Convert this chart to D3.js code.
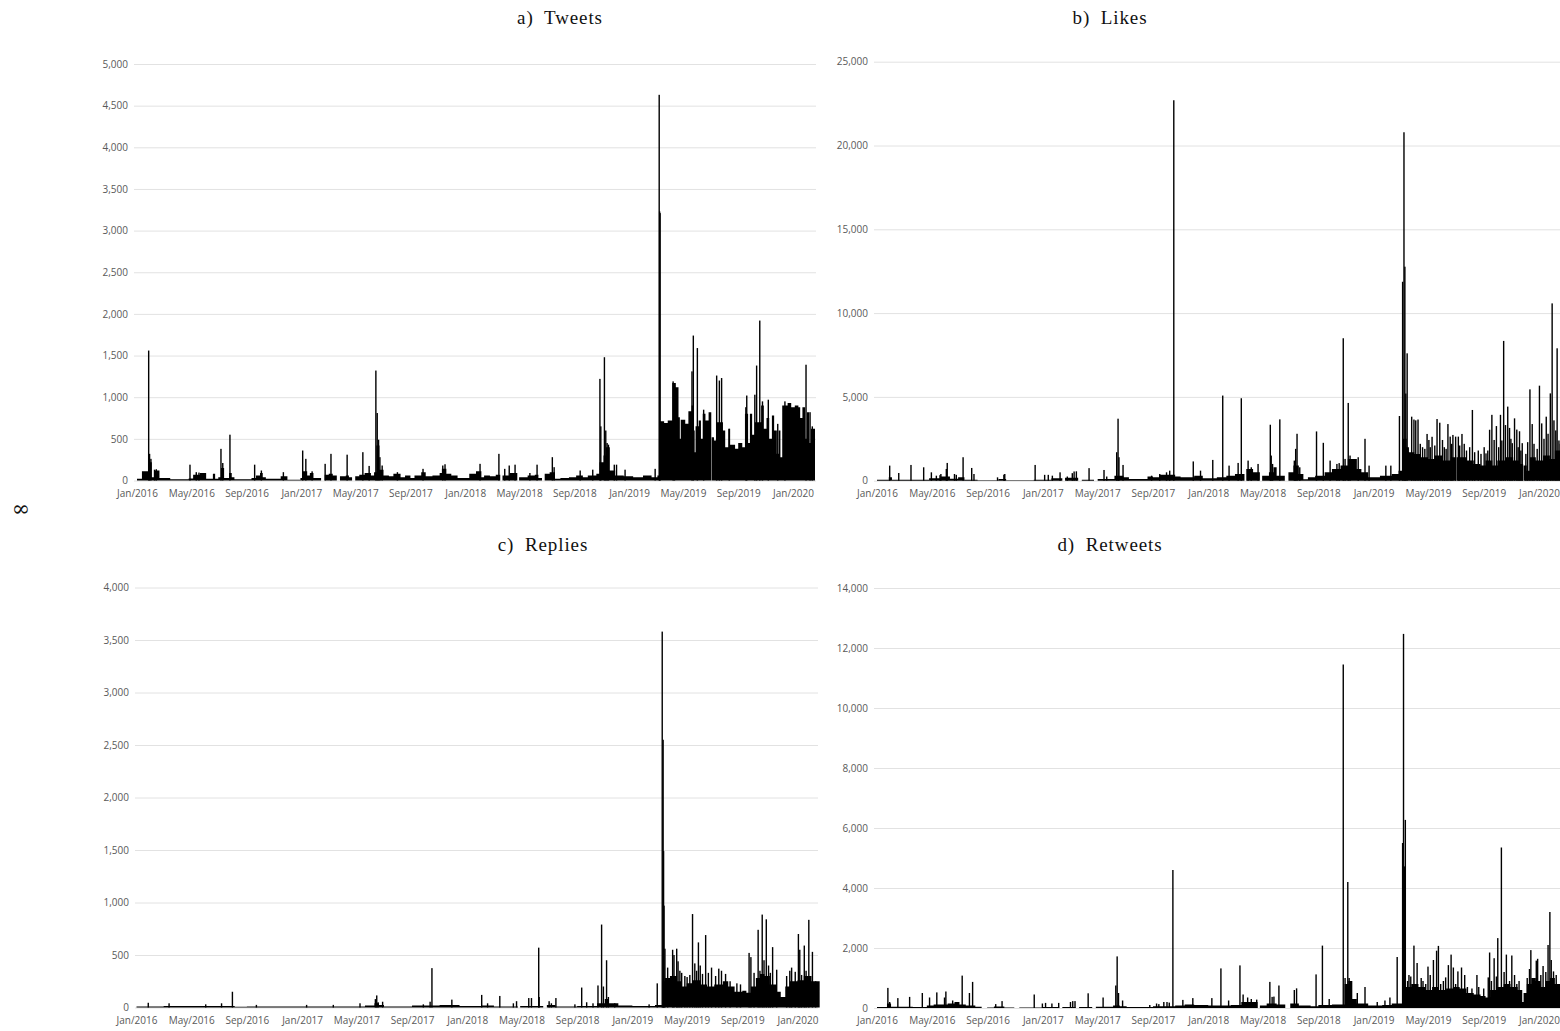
<!DOCTYPE html>
<html>
<head>
  <meta charset="utf-8">
  <title>Tweets, likes, replies and retweets per day</title>
  <style>
    body,html{
      margin:0;
      padding:0;
      background:#fff;
    }
    svg{ display:block; }
    .title{
      font-family:"Liberation Serif", "DejaVu Serif", serif;
      font-size:19px;
      letter-spacing:0.9px;
      word-spacing:5px;
      fill:#111;
    }
    .tick text{
      font-family:"Open Sans", "Liberation Sans", sans-serif;
      font-size:10px;
      fill:#595959;
    }
    .grid .tick line{ stroke:#e2e2e2; }
  </style>
</head>
<body>
  <div id="container"></div>
  <script src="https://d3js.org/d3.v7.min.js"></script>
  <script>

    // x axis ticks
    var xTicks = ["2016-01-01","2016-05-01","2016-09-01","2017-01-01","2017-05-01","2017-09-01","2018-01-01",
      "2018-05-01","2018-09-01","2019-01-01","2019-05-01","2019-09-01","2020-01-01"];
    var xTickLabels = ["Jan/2016","May/2016","Sep/2016","Jan/2017","May/2017","Sep/2017","Jan/2018",
      "May/2018","Sep/2018","Jan/2019","May/2019","Sep/2019","Jan/2020"];

    // each series: a daily "base" level (holds until next entry) + single-day peaks
    var tweetsBase = [["2016-01-01",20],["2016-01-12",110],["2016-01-26",60],["2016-01-28",220],["2016-02-03",40],["2016-02-08",120],
      ["2016-02-20",30],["2016-03-15",15],["2016-04-25",25],["2016-05-05",70],["2016-05-20",90],["2016-06-03",20],["2016-06-18",80],
      ["2016-06-23",20],["2016-06-30",40],["2016-07-06",150],["2016-07-13",30],["2016-07-24",90],["2016-07-30",40],["2016-08-05",15],
      ["2016-09-12",30],["2016-09-22",60],["2016-10-01",90],["2016-10-07",40],["2016-10-14",20],["2016-11-16",50],["2016-12-01",10],
      ["2016-12-30",30],["2017-01-03",110],["2017-01-14",60],["2017-01-20",90],["2017-01-28",30],["2017-02-14",0],["2017-02-22",70],
      ["2017-03-03",80],["2017-03-12",60],["2017-03-21",0],["2017-03-28",50],["2017-04-10",60],["2017-04-17",40],["2017-04-24",0],
      ["2017-05-01",50],["2017-05-10",70],["2017-05-22",90],["2017-06-05",60],["2017-06-12",100],["2017-06-17",420],["2017-06-24",130],
      ["2017-07-03",60],["2017-07-15",50],["2017-07-25",80],["2017-08-10",40],["2017-08-20",60],["2017-09-01",30],["2017-09-10",60],
      ["2017-09-25",100],["2017-10-05",50],["2017-10-20",60],["2017-11-05",90],["2017-11-10",140],["2017-11-20",80],["2017-12-01",60],
      ["2017-12-15",30],["2018-01-10",80],["2018-01-25",110],["2018-02-06",40],["2018-02-12",60],["2018-02-25",50],["2018-03-10",70],
      ["2018-03-20",0],["2018-03-25",60],["2018-04-10",90],["2018-04-27",0],["2018-05-01",40],["2018-05-20",60],["2018-06-05",70],
      ["2018-06-13",30],["2018-06-21",0],["2018-06-27",80],["2018-07-08",100],["2018-07-20",20],["2018-08-01",30],["2018-08-20",40],
      ["2018-09-05",60],["2018-09-20",40],["2018-10-01",60],["2018-10-20",80],["2018-10-27",220],["2018-11-05",300],["2018-11-10",400],
      ["2018-11-19",120],["2018-12-01",60],["2018-12-20",50],["2019-01-10",40],["2019-02-01",60],["2019-02-20",40],["2019-03-05",60],
      ["2019-03-09",710],["2019-03-20",690],["2019-03-28",720],["2019-04-07",1170],["2019-04-15",1120],["2019-04-21",760],["2019-04-24",500],
      ["2019-04-26",730],["2019-05-06",680],["2019-05-13",830],["2019-05-20",900],["2019-05-25",600],["2019-05-27",340],["2019-05-29",650],
      ["2019-06-05",720],["2019-06-10",500],["2019-06-14",800],["2019-06-20",720],["2019-06-27",820],["2019-07-03",0],["2019-07-04",520],
      ["2019-07-09",480],["2019-07-15",700],["2019-07-29",600],["2019-08-03",400],["2019-08-10",620],["2019-08-14",430],["2019-08-25",380],
      ["2019-09-01",450],["2019-09-10",400],["2019-09-16",800],["2019-09-23",450],["2019-09-27",800],["2019-10-02",550],["2019-10-08",700],
      ["2019-10-22",900],["2019-10-28",620],["2019-11-03",750],["2019-11-09",500],["2019-11-15",780],["2019-11-20",600],["2019-11-26",320],
      ["2019-11-30",600],["2019-12-04",280],["2019-12-08",900],["2019-12-20",930],["2019-12-28",880],["2020-01-05",900],["2020-01-13",880],
      ["2020-01-17",750],["2020-01-22",880],["2020-01-28",500],["2020-02-01",820],["2020-02-06",450],["2020-02-10",620],["2020-02-19",0]];
    var tweetsPeaks = [["2016-01-27",1560],["2016-01-29",320],["2016-02-01",260],["2016-02-09",130],["2016-02-13",135],["2016-04-28",190],
      ["2016-05-12",100],["2016-05-18",95],["2016-07-06",380],["2016-07-10",210],["2016-07-26",550],["2016-09-19",190],["2016-10-04",120],
      ["2016-11-22",100],["2017-01-04",360],["2017-01-11",260],["2017-01-25",110],["2017-02-23",200],["2017-03-08",320],["2017-04-13",310],
      ["2017-05-18",340],["2017-06-01",175],["2017-06-16",1320],["2017-06-19",810],["2017-06-22",490],["2017-06-25",280],["2017-06-30",180],
      ["2017-08-03",100],["2017-09-29",140],["2017-11-12",180],["2017-11-17",195],["2018-02-03",200],["2018-03-17",320],["2018-03-30",140],
      ["2018-04-09",180],["2018-04-22",190],["2018-05-25",90],["2018-06-10",190],["2018-07-14",280],["2018-07-18",160],["2018-09-14",120],
      ["2018-10-12",130],["2018-10-28",1220],["2018-10-30",650],["2018-11-07",1480],["2018-11-10",600],["2018-11-13",450],["2018-11-16",430],
      ["2018-11-29",190],["2018-12-04",190],["2018-12-23",130],["2019-02-28",140],["2019-03-09",4630],["2019-03-10",3230],["2019-03-11",3210],
      ["2019-04-09",1190],["2019-04-12",1150],["2019-05-21",1310],["2019-05-24",1740],["2019-06-02",1590],["2019-06-16",850],["2019-07-15",1260],
      ["2019-07-21",1200],["2019-07-26",1230],["2019-08-12",620],["2019-09-18",880],["2019-09-20",1020],["2019-10-08",1030],["2019-10-12",1380],
      ["2019-10-19",1920],["2019-10-25",950],["2019-11-07",970],["2019-11-28",680],["2019-12-14",950],["2020-01-30",1390],["2020-02-08",820],
      ["2020-02-13",650]];

    var likesBase = [["2016-01-01",60],["2016-01-27",200],["2016-02-03",60],["2016-04-25",150],["2016-05-20",250],["2016-06-10",120],
      ["2016-06-28",200],["2016-07-12",60],["2016-08-10",20],["2016-09-25",100],["2016-10-12",30],["2016-12-12",60],["2017-01-20",150],
      ["2017-02-13",0],["2017-02-19",180],["2017-03-20",0],["2017-03-28",60],["2017-04-24",0],["2017-05-02",100],["2017-06-08",300],
      ["2017-06-28",200],["2017-07-10",100],["2017-08-20",250],["2017-09-01",200],["2017-09-15",350],["2017-10-20",250],["2017-11-01",200],
      ["2017-12-01",300],["2017-12-20",150],["2018-01-20",200],["2018-02-10",300],["2018-03-01",400],["2018-03-22",0],["2018-03-26",700],
      ["2018-04-10",500],["2018-04-25",0],["2018-04-30",300],["2018-05-15",500],["2018-05-25",800],["2018-06-01",300],["2018-06-19",0],
      ["2018-06-27",500],["2018-07-08",900],["2018-07-20",400],["2018-07-30",80],["2018-08-09",200],["2018-08-25",300],["2018-09-15",500],
      ["2018-10-01",700],["2018-10-20",900],["2018-11-05",1300],["2018-11-25",700],["2018-12-05",500],["2018-12-20",200],["2019-01-15",300],
      ["2019-02-10",400],["2019-02-25",600],["2019-03-06",2500],["2019-03-15",2000],["2019-03-20",1700],["2019-04-01",1600],["2019-04-15",1400],
      ["2019-05-01",1300],["2019-05-15",1500],["2019-06-01",1200],["2019-06-20",1400],["2019-07-01",1500],["2019-07-02",0],["2019-07-03",1400],
      ["2019-07-25",1200],["2019-08-10",1000],["2019-08-25",900],["2019-09-05",1200],["2019-09-20",900],["2019-10-01",1200],["2019-10-20",1400],
      ["2019-11-05",1200],["2019-11-20",1000],["2019-11-27",0],["2019-11-28",900],["2019-12-05",600],["2019-12-12",1400],["2019-12-25",1200],
      ["2020-01-10",1500],["2020-01-25",1300],["2020-02-05",1800],["2020-02-19",0]];
    var likesPeaks = [["2016-01-29",900],["2016-02-18",460],["2016-03-16",940],["2016-04-13",800],["2016-04-30",500],["2016-05-11",300],
      ["2016-05-19",330],["2016-05-21",400],["2016-06-02",700],["2016-06-04",1060],["2016-06-20",400],["2016-06-24",350],["2016-07-09",1400],
      ["2016-07-28",760],["2016-08-02",400],["2016-09-23",200],["2016-10-07",360],["2016-10-09",400],["2016-12-15",940],["2017-01-05",350],
      ["2017-01-13",350],["2017-01-22",300],["2017-02-08",500],["2017-02-24",250],["2017-03-07",450],["2017-03-11",550],["2017-03-16",560],
      ["2017-04-13",750],["2017-05-16",640],["2017-05-22",250],["2017-06-13",1700],["2017-06-16",3700],["2017-06-18",1400],["2017-06-27",940],
      ["2017-08-29",300],["2017-09-16",400],["2017-10-01",500],["2017-10-08",600],["2017-10-17",22700],["2017-11-29",1150],["2017-12-15",600],
      ["2018-01-11",1240],["2018-02-02",5080],["2018-02-16",900],["2018-03-08",1060],["2018-03-15",4920],["2018-03-30",1200],["2018-04-06",800],
      ["2018-04-21",1000],["2018-05-18",3340],["2018-05-20",1500],["2018-05-23",1000],["2018-06-08",3660],["2018-07-10",1200],["2018-07-13",1900],
      ["2018-07-16",2800],["2018-07-22",800],["2018-08-28",2940],["2018-09-12",2260],["2018-09-27",1200],["2018-10-12",1000],["2018-10-17",1050],
      ["2018-10-26",8500],["2018-10-30",1300],["2018-11-06",4640],["2018-11-10",1500],["2018-11-28",1400],["2018-12-13",2500],["2018-12-22",900],
      ["2019-01-28",900],["2019-02-08",900],["2019-02-27",3860],["2019-03-06",11870],["2019-03-09",20790],["2019-03-11",12770],["2019-03-13",5200],
      ["2019-03-16",7600],["2019-03-26",3820],["2019-03-31",3650],["2019-04-04",3600],["2019-04-09",3650],["2019-04-14",2200],["2019-04-19",2000],
      ["2019-04-24",1900],["2019-04-29",2790],["2019-05-03",2430],["2019-05-06",2000],["2019-05-10",2620],["2019-05-16",2100],["2019-05-21",3680],
      ["2019-05-27",3460],["2019-06-02",2430],["2019-06-06",2000],["2019-06-10",1900],["2019-06-14",3380],["2019-06-19",2630],["2019-06-22",2200],
      ["2019-06-25",2730],["2019-07-01",2630],["2019-07-07",2630],["2019-07-10",2100],["2019-07-15",2790],["2019-07-20",2200],["2019-07-25",1800],
      ["2019-08-01",2000],["2019-08-07",4220],["2019-08-12",1700],["2019-08-20",1800],["2019-08-26",1600],["2019-09-02",2000],["2019-09-06",1630],
      ["2019-09-10",1800],["2019-09-14",3040],["2019-09-19",3930],["2019-09-24",2430],["2019-09-29",3260],["2019-10-04",2000],["2019-10-08",3930],
      ["2019-10-11",2400],["2019-10-15",8340],["2019-10-19",3320],["2019-10-24",4420],["2019-10-28",3150],["2019-10-31",2500],["2019-11-03",2240],
      ["2019-11-08",3720],["2019-11-13",3050],["2019-11-16",2000],["2019-11-19",2950],["2019-11-22",1800],["2019-11-25",2240],["2019-12-03",1600],
      ["2019-12-07",2300],["2019-12-12",5450],["2019-12-17",3380],["2019-12-21",2200],["2019-12-28",1900],["2020-01-02",5670],["2020-01-07",3420],
      ["2020-01-12",2500],["2020-01-17",3820],["2020-01-21",2800],["2020-01-26",5210],["2020-01-30",10580],["2020-02-03",3600],["2020-02-07",3000],
      ["2020-02-10",7900],["2020-02-14",2400],["2020-02-17",2200]];

    var repliesBase = [["2016-01-01",10],["2016-03-01",15],["2016-08-05",8],["2016-09-01",10],["2017-05-20",20],["2017-06-10",40],
      ["2017-06-20",25],["2017-07-01",10],["2017-09-01",20],["2017-11-01",25],["2017-12-15",15],["2018-02-01",20],["2018-03-01",10],
      ["2018-04-23",0],["2018-04-28",15],["2018-06-18",0],["2018-06-26",25],["2018-07-15",10],["2018-09-01",15],["2018-10-15",40],
      ["2018-11-01",80],["2018-11-10",40],["2018-12-01",20],["2019-01-01",15],["2019-02-20",25],["2019-03-09",250],["2019-03-14",280],
      ["2019-03-25",300],["2019-04-10",250],["2019-04-20",200],["2019-05-01",230],["2019-05-15",260],["2019-06-01",220],["2019-06-15",200],
      ["2019-07-01",220],["2019-07-20",250],["2019-08-01",200],["2019-08-15",150],["2019-09-01",160],["2019-09-10",140],["2019-09-20",200],
      ["2019-10-01",280],["2019-10-10",320],["2019-10-20",300],["2019-11-01",220],["2019-11-15",150],["2019-11-25",100],["2019-12-05",200],
      ["2019-12-15",250],["2020-01-01",260],["2020-01-15",300],["2020-02-01",250],["2020-02-19",0]];
    var repliesPeaks = [["2016-01-27",45],["2016-03-13",40],["2016-06-02",30],["2016-07-07",40],["2016-07-31",150],["2016-09-22",25],
      ["2017-01-11",25],["2017-03-11",25],["2017-05-09",40],["2017-06-12",80],["2017-06-15",115],["2017-06-18",50],["2017-06-28",55],
      ["2017-09-26",30],["2017-10-11",55],["2017-10-15",375],["2017-11-28",75],["2018-02-02",120],["2018-02-15",40],["2018-03-14",110],
      ["2018-04-13",40],["2018-04-20",60],["2018-05-17",90],["2018-05-23",90],["2018-06-08",570],["2018-06-09",100],["2018-07-01",60],
      ["2018-07-06",40],["2018-07-16",90],["2018-08-27",30],["2018-09-11",190],["2018-09-22",50],["2018-10-06",40],["2018-10-17",210],
      ["2018-10-25",790],["2018-10-29",200],["2018-11-05",450],["2018-11-09",100],["2018-11-23",40],["2019-02-07",30],["2019-02-25",230],
      ["2019-03-08",3580],["2019-03-10",2550],["2019-03-11",1490],["2019-03-12",970],["2019-03-14",560],["2019-03-20",380],["2019-03-31",550],
      ["2019-04-03",500],["2019-04-09",560],["2019-04-12",440],["2019-04-16",350],["2019-04-20",330],["2019-04-27",300],["2019-05-02",290],
      ["2019-05-08",310],["2019-05-14",890],["2019-05-19",420],["2019-05-23",350],["2019-05-27",620],["2019-05-31",400],["2019-06-05",320],
      ["2019-06-12",690],["2019-06-18",330],["2019-06-25",380],["2019-07-04",300],["2019-07-11",370],["2019-07-17",350],["2019-07-26",320],
      ["2019-08-05",250],["2019-08-20",230],["2019-08-28",220],["2019-09-16",520],["2019-09-20",480],["2019-09-27",330],["2019-10-06",740],
      ["2019-10-10",350],["2019-10-15",885],["2019-10-19",450],["2019-10-24",840],["2019-10-29",400],["2019-11-02",330],["2019-11-07",575],
      ["2019-11-16",360],["2019-12-08",300],["2019-12-15",350],["2019-12-19",380],["2019-12-27",340],["2020-01-03",700],["2020-01-06",550],
      ["2020-01-10",310],["2020-01-16",590],["2020-01-20",350],["2020-01-26",835],["2020-02-03",530],["2020-02-10",250]];

    var retweetsBase = [["2016-01-01",30],["2016-01-23",150],["2016-02-01",40],["2016-03-20",30],["2016-04-20",80],["2016-05-05",120],
      ["2016-06-05",150],["2016-06-20",200],["2016-07-01",120],["2016-07-15",80],["2016-08-05",40],["2016-08-19",0],["2016-08-31",20],
      ["2016-09-15",50],["2016-10-08",20],["2016-10-30",0],["2016-11-10",20],["2017-01-01",30],["2017-02-06",0],["2017-02-13",30],
      ["2017-03-14",0],["2017-03-22",30],["2017-04-20",0],["2017-04-28",40],["2017-06-05",80],["2017-06-20",60],["2017-07-05",30],
      ["2017-09-01",60],["2017-10-20",80],["2017-11-10",120],["2017-12-01",100],["2018-01-01",80],["2018-02-20",100],["2018-03-15",200],
      ["2018-04-20",0],["2018-04-25",80],["2018-05-10",150],["2018-06-01",120],["2018-06-20",0],["2018-07-01",150],["2018-07-20",80],
      ["2018-08-15",60],["2018-09-01",100],["2018-10-01",120],["2018-10-29",800],["2018-11-06",900],["2018-11-15",300],["2018-11-25",150],
      ["2018-12-20",80],["2019-01-20",100],["2019-02-10",150],["2019-03-06",800],["2019-03-13",700],["2019-03-25",800],["2019-04-10",700],
      ["2019-04-25",600],["2019-05-10",700],["2019-05-25",600],["2019-06-10",650],["2019-06-25",700],["2019-07-10",650],["2019-07-25",500],
      ["2019-08-10",450],["2019-08-25",400],["2019-09-05",350],["2019-09-15",600],["2019-10-01",700],["2019-10-15",800],["2019-10-30",700],
      ["2019-11-15",600],["2019-11-25",200],["2019-11-28",500],["2019-12-05",800],["2019-12-15",1000],["2019-12-25",900],["2020-01-05",700],
      ["2020-01-15",900],["2020-01-25",1000],["2020-02-05",800],["2020-02-19",0]];
    var retweetsPeaks = [["2016-01-25",670],["2016-01-29",200],["2016-02-16",330],["2016-03-13",370],["2016-04-10",500],["2016-04-26",350],
      ["2016-05-12",520],["2016-05-29",350],["2016-06-01",550],["2016-06-16",250],["2016-07-07",1080],["2016-07-23",500],["2016-07-30",870],
      ["2016-09-19",130],["2016-10-03",230],["2016-12-13",450],["2016-12-31",150],["2017-01-07",170],["2017-01-21",150],["2017-02-05",170],
      ["2017-03-03",200],["2017-03-08",230],["2017-03-13",230],["2017-04-11",490],["2017-05-14",350],["2017-06-11",750],["2017-06-14",1720],
      ["2017-06-17",500],["2017-06-26",250],["2017-08-25",100],["2017-09-09",150],["2017-09-14",130],["2017-09-25",200],["2017-10-02",200],
      ["2017-10-07",180],["2017-10-15",4600],["2017-11-06",270],["2017-11-28",330],["2018-01-09",330],["2018-01-29",1320],["2018-02-15",250],
      ["2018-03-12",1420],["2018-03-19",450],["2018-03-29",350],["2018-04-06",300],["2018-04-18",280],["2018-05-17",870],["2018-05-22",370],
      ["2018-05-26",380],["2018-06-06",750],["2018-07-10",600],["2018-07-15",655],["2018-08-27",1120],["2018-09-10",2080],["2018-09-25",300],
      ["2018-10-26",11450],["2018-10-30",1000],["2018-11-05",4200],["2018-11-08",1000],["2018-11-12",900],["2018-11-26",500],["2018-12-13",700],
      ["2019-01-09",200],["2019-01-26",250],["2019-02-06",350],["2019-02-22",1700],["2019-03-06",5500],["2019-03-08",12470],["2019-03-10",4720],
      ["2019-03-11",2500],["2019-03-12",6270],["2019-03-17",900],["2019-03-20",1100],["2019-03-24",1050],["2019-03-31",2080],["2019-04-07",1500],
      ["2019-04-16",1000],["2019-04-20",900],["2019-04-26",800],["2019-05-01",1380],["2019-05-06",1100],["2019-05-13",1600],["2019-05-20",1910],
      ["2019-05-24",2070],["2019-05-29",800],["2019-06-04",900],["2019-06-09",1020],["2019-06-15",1430],["2019-06-21",1780],["2019-06-26",1350],
      ["2019-07-01",800],["2019-07-06",1220],["2019-07-14",1350],["2019-07-21",1100],["2019-07-27",700],["2019-08-06",650],["2019-08-17",1100],
      ["2019-08-21",700],["2019-09-01",650],["2019-09-11",1020],["2019-09-14",1850],["2019-09-18",900],["2019-09-24",1660],["2019-09-29",1050],
      ["2019-10-02",2330],["2019-10-10",5350],["2019-10-16",1200],["2019-10-21",1780],["2019-10-28",900],["2019-11-02",1750],["2019-11-08",1100],
      ["2019-11-13",800],["2019-11-18",900],["2019-12-06",1000],["2019-12-11",1300],["2019-12-14",1930],["2019-12-26",1580],["2019-12-29",1640],
      ["2020-01-05",1100],["2020-01-10",1400],["2020-01-16",1200],["2020-01-21",2100],["2020-01-25",3200],["2020-01-28",1600],["2020-02-02",1220],
      ["2020-02-08",1100]];


    var parseDay = d3.timeParse("%Y-%m-%d");

    var panels = [
      {title:"a) Tweets", base:tweetsBase, peaks:tweetsPeaks, yMax:5000, yStep:500,
        x0:137, x1:793, gridL:134, gridR:816, yZero:480.5, yTop:64, xPad:9, tx:560, ty:24},
      {title:"b) Likes", base:likesBase, peaks:likesPeaks, yMax:25000, yStep:5000,
        x0:877, x1:1539, gridL:874, gridR:1560, yZero:480.7, yTop:61.7, xPad:9, tx:1110, ty:24},
      {title:"c) Replies", base:repliesBase, peaks:repliesPeaks, yMax:4000, yStep:500,
        x0:136.5, x1:797.5, gridL:135, gridR:818, yZero:1007.5, yTop:587.5, xPad:9, tx:543, ty:551},
      {title:"d) Retweets", base:retweetsBase, peaks:retweetsPeaks, yMax:14000, yStep:2000,
        x0:877, x1:1539, gridL:874, gridR:1560, yZero:1008, yTop:588, xPad:9, tx:1110, ty:551}
    ];

    var svg = d3.select('#container').append('svg')
      .attr('width', 1560).attr('height', 1031);

    panels.forEach(function(p){
      var x = d3.scaleTime()
        .domain([parseDay("2016-01-01"), parseDay("2020-01-01")])
        .range([p.x0, p.x1]);
      var y = d3.scaleLinear().domain([0, p.yMax]).range([p.yZero, p.yTop]);
      var g = svg.append('g');

      var yAxis = d3.axisLeft(y)
        .tickValues(d3.range(0, p.yMax + 1, p.yStep))
        .tickSize(-(p.gridR - p.gridL))
        .tickPadding(6)
        .tickFormat(d3.format(","));
      g.append('g').attr('class', 'grid')
        .attr('transform', 'translate(' + p.gridL + ',0)')
        .call(yAxis)
        .call(function(a){ a.select('.domain').remove(); });

      var xAxis = d3.axisBottom(x)
        .tickValues(xTicks.map(parseDay))
        .tickFormat(function(d, i){ return xTickLabels[i]; })
        .tickSize(0)
        .tickPadding(p.xPad);
      g.append('g')
        .attr('transform', 'translate(0,' + p.yZero + ')')
        .call(xAxis)
        .call(function(a){ a.select('.domain').remove(); });

      var area = d3.area()
        .curve(d3.curveStepAfter)
        .x(function(d){ return x(parseDay(d[0])); })
        .y0(y(0))
        .y1(function(d){ return y(d[1]); });
      g.append('path').datum(p.base).attr('d', area).attr('fill', '#000');

      g.selectAll('rect.peak').data(p.peaks).enter().append('rect')
        .attr('class', 'peak')
        .attr('x', function(d){ return x(parseDay(d[0])) - 0.7; })
        .attr('width', 1.4)
        .attr('y', function(d){ return y(d[1]); })
        .attr('height', function(d){ return y(0) - y(d[1]); })
        .attr('fill', '#000');

      svg.append('text').attr('class', 'title')
        .attr('x', p.tx).attr('y', p.ty)
        .attr('text-anchor', 'middle')
        .text(p.title);
    });

    svg.append('text')
      .attr('x', 21).attr('y', 516)
      .attr('text-anchor', 'middle')
      .style('font-family', '"DejaVu Serif", serif')
      .style('font-size', '22px')
      .attr('fill', '#111')
      .text('\u221E');

  </script>
</body>
</html>
